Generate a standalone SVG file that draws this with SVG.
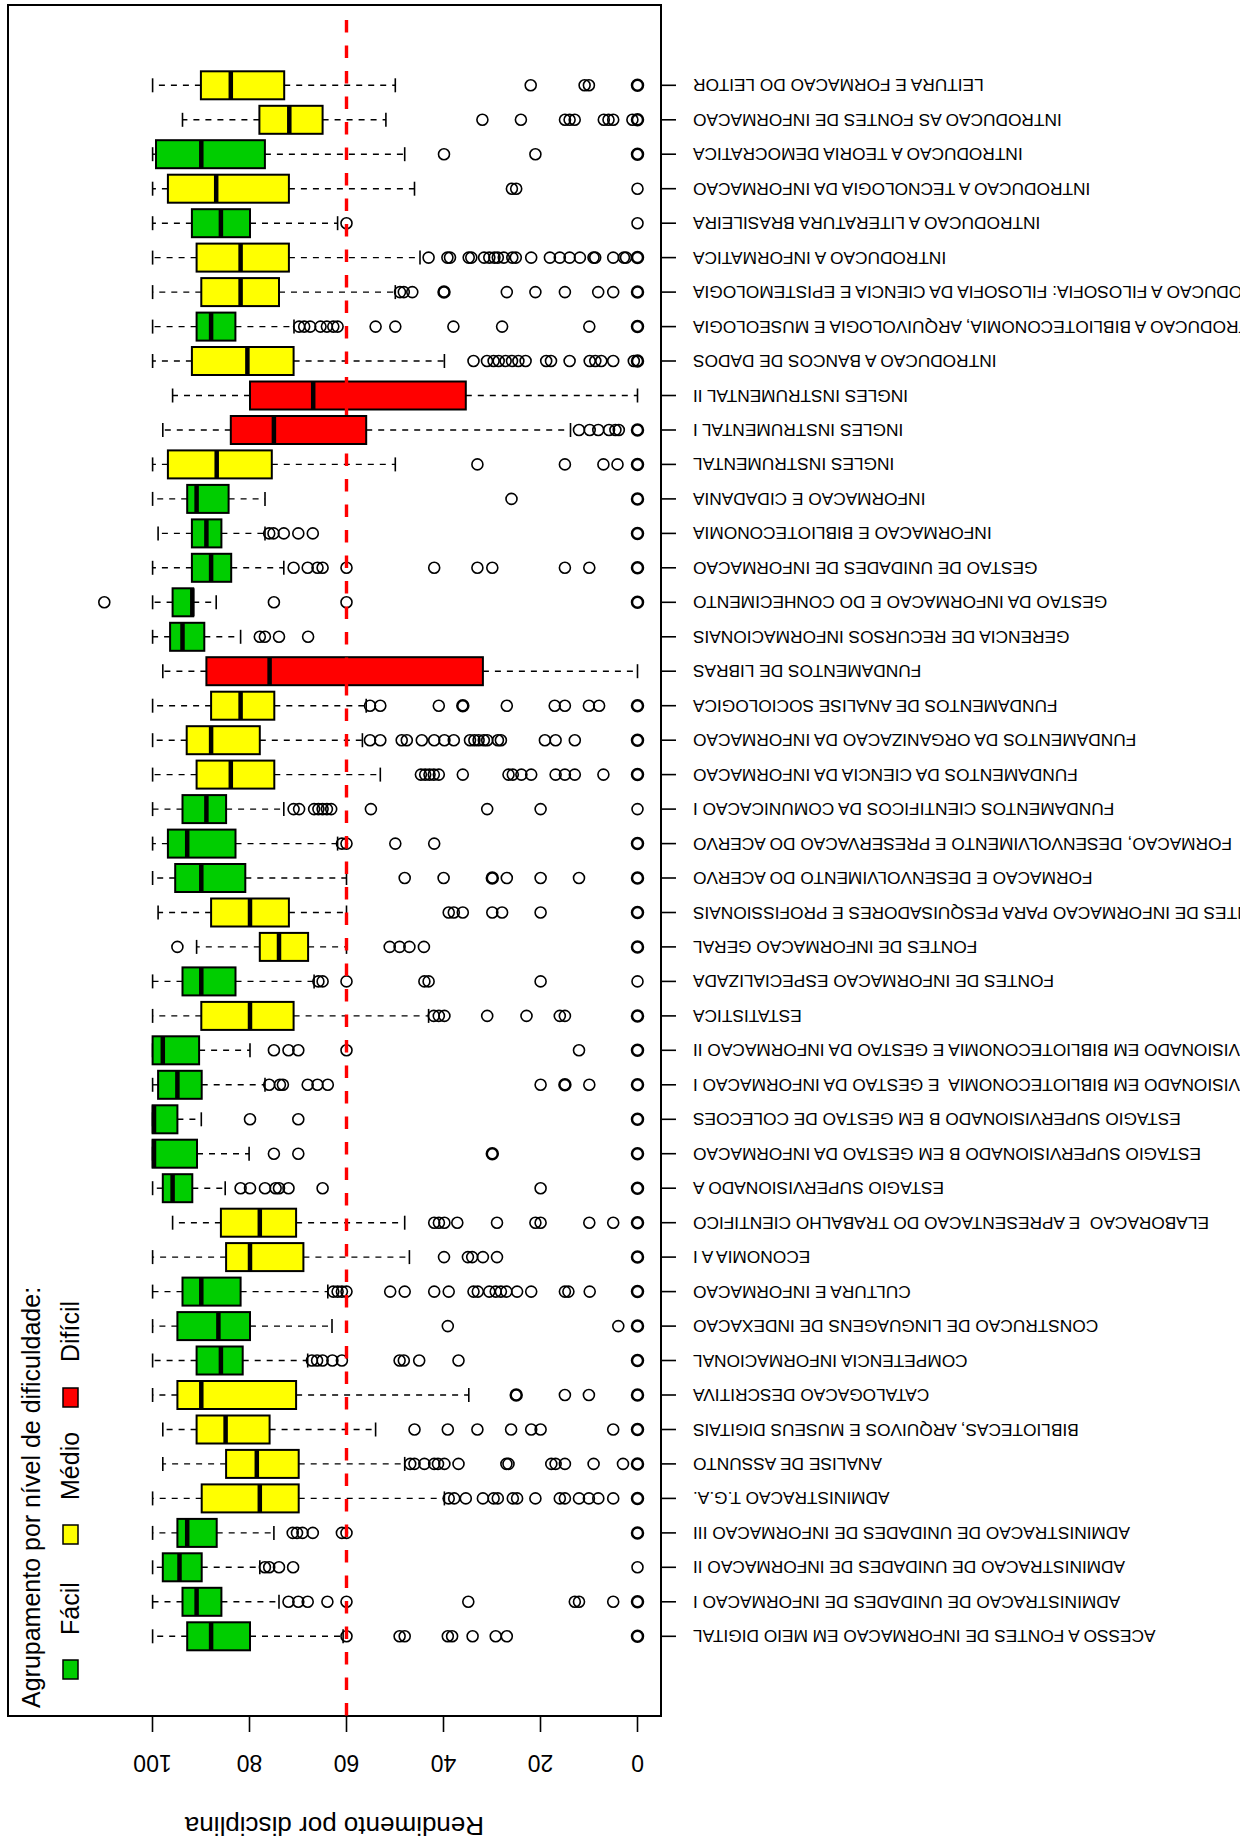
<svg xmlns="http://www.w3.org/2000/svg" width="1240" height="1842" viewBox="0 0 1240 1842">
<style>
text{font-family:"Liberation Sans",Arial,Helvetica,sans-serif;fill:#000}
.lb{font-size:17.3px;text-anchor:end}
.ax{font-size:23px;text-anchor:middle}
.tt{font-size:26px;text-anchor:middle}
.lg{font-size:25px}
.g{fill:#00cd00}.y{fill:#ffff00}.r{fill:#ff0000}
.row rect{stroke:#000;stroke-width:2}
.wh{stroke:#000;stroke-width:1.4;stroke-dasharray:6 6}
.st{stroke:#000;stroke-width:1.6}
.md{stroke:#000;stroke-width:4.5}
.tk{stroke:#000;stroke-width:1.6}
.row circle{fill:none;stroke:#000;stroke-width:1.6;r:5.5px}
.row circle.b{stroke-width:2.5}
.lk{stroke:#000;stroke-width:1.5}
</style>
<rect width="1240" height="1842" fill="#fff"/>
<rect id="frame" x="8" y="5" width="653" height="1711" fill="none" stroke="#000" stroke-width="2"/>

<g id="r1" class="row" transform="translate(0,85.3)"><line class="wh" x1="200.9" x2="152.6"/><line class="wh" x1="284.2" x2="395.3"/><line class="st" x1="152.6" x2="152.6" y1="-7" y2="7"/><line class="st" x1="395.3" x2="395.3" y1="-7" y2="7"/><rect class="y" x="200.9" y="-14" width="83.3" height="28"/><line class="md" x1="230.8" x2="230.8" y1="-14" y2="14"/><circle cx="530.7" r="5.5"/><circle cx="584.6" r="5.5"/><circle cx="588.9" r="5.5"/><circle class="b" cx="637.5" r="5.5"/><line class="tk" x1="661" x2="676"/><text class="lb" transform="translate(693,-6) rotate(180)">LEITURA E FORMACAO DO LEITOR</text></g>

<g id="r2" class="row" transform="translate(0,119.8)"><line class="wh" x1="259.4" x2="182.5"/><line class="wh" x1="322.6" x2="385.9"/><line class="st" x1="182.5" x2="182.5" y1="-7" y2="7"/><line class="st" x1="385.9" x2="385.9" y1="-7" y2="7"/><rect class="y" x="259.4" y="-14" width="63.2" height="28"/><line class="md" x1="289.3" x2="289.3" y1="-14" y2="14"/><circle cx="482.4" r="5.5"/><circle cx="520.9" r="5.5"/><circle cx="565" r="5.5"/><circle cx="569.6" r="5.5"/><circle cx="574.7" r="5.5"/><circle cx="603.8" r="5.5"/><circle cx="608.5" r="5.5"/><circle cx="613.2" r="5.5"/><circle cx="632.4" r="5.5"/><circle class="b" cx="637.5" r="5.5"/><line class="tk" x1="661" x2="676"/><text class="lb" transform="translate(693,-6) rotate(180)">INTRODUCAO AS FONTES DE INFORMACAO</text></g>

<g id="r3" class="row" transform="translate(0,154.2)"><line class="wh" x1="156" x2="152.6"/><line class="wh" x1="264.9" x2="404.7"/><line class="st" x1="152.6" x2="152.6" y1="-7" y2="7"/><line class="st" x1="404.7" x2="404.7" y1="-7" y2="7"/><rect class="g" x="156" y="-14" width="108.9" height="28"/><line class="md" x1="201.3" x2="201.3" y1="-14" y2="14"/><circle cx="444" r="5.5"/><circle cx="535.4" r="5.5"/><circle class="b" cx="637.5" r="5.5"/><line class="tk" x1="661" x2="676"/><text class="lb" transform="translate(693,-6) rotate(180)">INTRODUCAO A TEORIA DEMOCRATICA</text></g>

<g id="r4" class="row" transform="translate(0,188.7)"><line class="wh" x1="167.9" x2="152.6"/><line class="wh" x1="288.9" x2="414.5"/><line class="st" x1="152.6" x2="152.6" y1="-7" y2="7"/><line class="st" x1="414.5" x2="414.5" y1="-7" y2="7"/><rect class="y" x="167.9" y="-14" width="121" height="28"/><line class="md" x1="216.2" x2="216.2" y1="-14" y2="14"/><circle cx="511.9" r="5.5"/><circle cx="516.2" r="5.5"/><circle cx="637.5" r="5.5"/><line class="tk" x1="661" x2="676"/><text class="lb" transform="translate(693,-6) rotate(180)">INTRODUCAO A TECNOLOGIA DA INFORMACAO</text></g>

<g id="r5" class="row" transform="translate(0,223.2)"><line class="wh" x1="191.9" x2="152.6"/><line class="wh" x1="250" x2="337.6"/><line class="st" x1="152.6" x2="152.6" y1="-7" y2="7"/><line class="st" x1="337.6" x2="337.6" y1="-7" y2="7"/><rect class="g" x="191.9" y="-14" width="58.1" height="28"/><line class="md" x1="220.9" x2="220.9" y1="-14" y2="14"/><circle cx="346.5" r="5.5"/><circle cx="637.5" r="5.5"/><line class="tk" x1="661" x2="676"/><text class="lb" transform="translate(693,-6) rotate(180)">INTRODUCAO A LITERATURA BRASILEIRA</text></g>

<g id="r6" class="row" transform="translate(0,257.6)"><line class="wh" x1="196.6" x2="152.6"/><line class="wh" x1="288.9" x2="420"/><line class="st" x1="152.6" x2="152.6" y1="-7" y2="7"/><line class="st" x1="420" x2="420" y1="-7" y2="7"/><rect class="y" x="196.6" y="-14" width="92.3" height="28"/><line class="md" x1="240.6" x2="240.6" y1="-14" y2="14"/><circle cx="428.6" r="5.5"/><circle cx="447.4" r="5.5"/><circle cx="450" r="5.5"/><circle cx="468.7" r="5.5"/><circle cx="471.3" r="5.5"/><circle cx="484.1" r="5.5"/><circle cx="489.3" r="5.5"/><circle cx="494.4" r="5.5"/><circle cx="497.8" r="5.5"/><circle cx="503.8" r="5.5"/><circle cx="512.3" r="5.5"/><circle cx="515.8" r="5.5"/><circle cx="531.2" r="5.5"/><circle cx="549.9" r="5.5"/><circle cx="559.8" r="5.5"/><circle cx="569.6" r="5.5"/><circle cx="579.9" r="5.5"/><circle cx="593.5" r="5.5"/><circle cx="595.2" r="5.5"/><circle cx="613.2" r="5.5"/><circle cx="623.9" r="5.5"/><circle cx="626" r="5.5"/><circle class="b" cx="637.5" r="5.5"/><line class="tk" x1="661" x2="676"/><text class="lb" transform="translate(693,-6) rotate(180)">INTRODUCAO A INFORMATICA</text></g>

<g id="r7" class="row" transform="translate(0,292.1)"><line class="wh" x1="201.3" x2="152.6"/><line class="wh" x1="279" x2="395.3"/><line class="st" x1="152.6" x2="152.6" y1="-7" y2="7"/><line class="st" x1="395.3" x2="395.3" y1="-7" y2="7"/><rect class="y" x="201.3" y="-14" width="77.7" height="28"/><line class="md" x1="240.6" x2="240.6" y1="-14" y2="14"/><circle cx="400" r="5.5"/><circle cx="403.8" r="5.5"/><circle cx="412.3" r="5.5"/><circle class="b" cx="444" r="5.5"/><circle cx="506.8" r="5.5"/><circle cx="535.4" r="5.5"/><circle cx="564.9" r="5.5"/><circle cx="598.2" r="5.5"/><circle cx="613.2" r="5.5"/><circle class="b" cx="637.5" r="5.5"/><line class="tk" x1="661" x2="676"/><text class="lb" transform="translate(693,-6) rotate(180)">INTRODUCAO A FILOSOFIA: FILOSOFIA DA CIENCIA E EPISTEMOLOGIA</text></g>

<g id="r8" class="row" transform="translate(0,326.6)"><line class="wh" x1="196.6" x2="152.6"/><line class="wh" x1="235.4" x2="294"/><line class="st" x1="152.6" x2="152.6" y1="-7" y2="7"/><line class="st" x1="294" x2="294" y1="-7" y2="7"/><rect class="g" x="196.6" y="-14" width="38.8" height="28"/><line class="md" x1="211.1" x2="211.1" y1="-14" y2="14"/><circle cx="299.1" r="5.5"/><circle cx="304.2" r="5.5"/><circle cx="310.2" r="5.5"/><circle cx="320.5" r="5.5"/><circle cx="326.9" r="5.5"/><circle cx="333.3" r="5.5"/><circle cx="337.6" r="5.5"/><circle cx="375.6" r="5.5"/><circle cx="395.3" r="5.5"/><circle cx="453.4" r="5.5"/><circle cx="502.1" r="5.5"/><circle cx="589.3" r="5.5"/><circle class="b" cx="637.5" r="5.5"/><line class="tk" x1="661" x2="676"/><text class="lb" transform="translate(693,-6) rotate(180)">INTRODUCAO A BIBLIOTECONOMIA, ARQUIVOLOGIA E MUSEOLOGIA</text></g>

<g id="r9" class="row" transform="translate(0,361)"><line class="wh" x1="191.9" x2="152.6"/><line class="wh" x1="293.6" x2="444.4"/><line class="st" x1="152.6" x2="152.6" y1="-7" y2="7"/><line class="st" x1="444.4" x2="444.4" y1="-7" y2="7"/><rect class="y" x="191.9" y="-14" width="101.7" height="28"/><line class="md" x1="247.4" x2="247.4" y1="-14" y2="14"/><circle cx="473.5" r="5.5"/><circle cx="487" r="5.5"/><circle cx="493.6" r="5.5"/><circle cx="498.7" r="5.5"/><circle cx="505.6" r="5.5"/><circle cx="512" r="5.5"/><circle cx="518.4" r="5.5"/><circle cx="525.6" r="5.5"/><circle cx="546.2" r="5.5"/><circle cx="551" r="5.5"/><circle cx="569.6" r="5.5"/><circle cx="589.7" r="5.5"/><circle cx="595.3" r="5.5"/><circle cx="601.3" r="5.5"/><circle cx="613.2" r="5.5"/><circle cx="633.8" r="5.5"/><circle class="b" cx="637.5" r="5.5"/><line class="tk" x1="661" x2="676"/><text class="lb" transform="translate(693,-6) rotate(180)">INTRODUCAO A BANCOS DE DADOS</text></g>

<g id="r10" class="row" transform="translate(0,395.5)"><line class="wh" x1="250" x2="172.6"/><line class="wh" x1="465.8" x2="637.5"/><line class="st" x1="172.6" x2="172.6" y1="-7" y2="7"/><line class="st" x1="637.5" x2="637.5" y1="-7" y2="7"/><rect class="r" x="250" y="-14" width="215.8" height="28"/><line class="md" x1="313.2" x2="313.2" y1="-14" y2="14"/><line class="tk" x1="661" x2="676"/><text class="lb" transform="translate(693,-6) rotate(180)">INGLES INSTRUMENTAL II</text></g>

<g id="r11" class="row" transform="translate(0,430)"><line class="wh" x1="230.8" x2="162.8"/><line class="wh" x1="366.2" x2="570.5"/><line class="st" x1="162.8" x2="162.8" y1="-7" y2="7"/><line class="st" x1="570.5" x2="570.5" y1="-7" y2="7"/><rect class="r" x="230.8" y="-14" width="135.4" height="28"/><line class="md" x1="273.9" x2="273.9" y1="-14" y2="14"/><circle cx="579" r="5.5"/><circle cx="589.7" r="5.5"/><circle cx="598.3" r="5.5"/><circle cx="609" r="5.5"/><circle cx="615.4" r="5.5"/><circle cx="618.8" r="5.5"/><circle class="b" cx="637.5" r="5.5"/><line class="tk" x1="661" x2="676"/><text class="lb" transform="translate(693,-6) rotate(180)">INGLES INSTRUMENTAL I</text></g>

<g id="r12" class="row" transform="translate(0,464.4)"><line class="wh" x1="167.9" x2="152.6"/><line class="wh" x1="271.8" x2="395.3"/><line class="st" x1="152.6" x2="152.6" y1="-7" y2="7"/><line class="st" x1="395.3" x2="395.3" y1="-7" y2="7"/><rect class="y" x="167.9" y="-14" width="103.9" height="28"/><line class="md" x1="216.7" x2="216.7" y1="-14" y2="14"/><circle cx="477.4" r="5.5"/><circle cx="564.9" r="5.5"/><circle cx="603.4" r="5.5"/><circle cx="617.5" r="5.5"/><circle class="b" cx="637.5" r="5.5"/><line class="tk" x1="661" x2="676"/><text class="lb" transform="translate(693,-6) rotate(180)">INGLES INSTRUMENTAL</text></g>

<g id="r13" class="row" transform="translate(0,498.9)"><line class="wh" x1="187.2" x2="152.6"/><line class="wh" x1="228.6" x2="265"/><line class="st" x1="152.6" x2="152.6" y1="-7" y2="7"/><line class="st" x1="265" x2="265" y1="-7" y2="7"/><rect class="g" x="187.2" y="-14" width="41.4" height="28"/><line class="md" x1="196.6" x2="196.6" y1="-14" y2="14"/><circle cx="511.5" r="5.5"/><circle class="b" cx="637.5" r="5.5"/><line class="tk" x1="661" x2="676"/><text class="lb" transform="translate(693,-6) rotate(180)">INFORMACAO E CIDADANIA</text></g>

<g id="r14" class="row" transform="translate(0,533.4)"><line class="wh" x1="191.9" x2="158.1"/><line class="wh" x1="221.4" x2="265"/><line class="st" x1="158.1" x2="158.1" y1="-7" y2="7"/><line class="st" x1="265" x2="265" y1="-7" y2="7"/><rect class="g" x="191.9" y="-14" width="29.5" height="28"/><line class="md" x1="206.4" x2="206.4" y1="-14" y2="14"/><circle cx="269.2" r="5.5"/><circle cx="273.5" r="5.5"/><circle cx="283.8" r="5.5"/><circle cx="298.3" r="5.5"/><circle cx="312.8" r="5.5"/><circle class="b" cx="637.5" r="5.5"/><line class="tk" x1="661" x2="676"/><text class="lb" transform="translate(693,-6) rotate(180)">INFORMACAO E BIBLIOTECONOMIA</text></g>

<g id="r15" class="row" transform="translate(0,567.8)"><line class="wh" x1="191.9" x2="152.6"/><line class="wh" x1="231.2" x2="283.8"/><line class="st" x1="152.6" x2="152.6" y1="-7" y2="7"/><line class="st" x1="283.8" x2="283.8" y1="-7" y2="7"/><rect class="g" x="191.9" y="-14" width="39.3" height="28"/><line class="md" x1="211.1" x2="211.1" y1="-14" y2="14"/><circle cx="293.6" r="5.5"/><circle cx="307.7" r="5.5"/><circle cx="317.5" r="5.5"/><circle cx="322.6" r="5.5"/><circle cx="346.5" r="5.5"/><circle cx="434.2" r="5.5"/><circle cx="477.4" r="5.5"/><circle cx="492.3" r="5.5"/><circle cx="564.9" r="5.5"/><circle cx="589.3" r="5.5"/><circle class="b" cx="637.5" r="5.5"/><line class="tk" x1="661" x2="676"/><text class="lb" transform="translate(693,-6) rotate(180)">GESTAO DE UNIDADES DE INFORMACAO</text></g>

<g id="r16" class="row" transform="translate(0,602.3)"><line class="wh" x1="172.6" x2="152.6"/><line class="wh" x1="193.2" x2="216.2"/><line class="st" x1="152.6" x2="152.6" y1="-7" y2="7"/><line class="st" x1="216.2" x2="216.2" y1="-7" y2="7"/><rect class="g" x="172.6" y="-14" width="20.6" height="28"/><line class="md" x1="192.3" x2="192.3" y1="-14" y2="14"/><circle cx="104.3" r="5.5"/><circle cx="273.9" r="5.5"/><circle cx="346.5" r="5.5"/><circle class="b" cx="637.5" r="5.5"/><line class="tk" x1="661" x2="676"/><text class="lb" transform="translate(693,-6) rotate(180)">GESTAO DA INFORMACAO E DO CONHECIMENTO</text></g>

<g id="r17" class="row" transform="translate(0,636.8)"><line class="wh" x1="170.1" x2="152.6"/><line class="wh" x1="204.3" x2="240.6"/><line class="st" x1="152.6" x2="152.6" y1="-7" y2="7"/><line class="st" x1="240.6" x2="240.6" y1="-7" y2="7"/><rect class="g" x="170.1" y="-14" width="34.2" height="28"/><line class="md" x1="182.5" x2="182.5" y1="-14" y2="14"/><circle cx="259.8" r="5.5"/><circle cx="264.9" r="5.5"/><circle cx="279" r="5.5"/><circle cx="308.1" r="5.5"/><line class="tk" x1="661" x2="676"/><text class="lb" transform="translate(693,-6) rotate(180)">GERENCIA DE RECURSOS INFORMACIONAIS</text></g>

<g id="r18" class="row" transform="translate(0,671.2)"><line class="wh" x1="206.4" x2="162.8"/><line class="wh" x1="482.9" x2="637.5"/><line class="st" x1="162.8" x2="162.8" y1="-7" y2="7"/><line class="st" x1="637.5" x2="637.5" y1="-7" y2="7"/><rect class="r" x="206.4" y="-14" width="276.5" height="28"/><line class="md" x1="269.6" x2="269.6" y1="-14" y2="14"/><line class="tk" x1="661" x2="676"/><text class="lb" transform="translate(693,-6) rotate(180)">FUNDAMENTOS DE LIBRAS</text></g>

<g id="r19" class="row" transform="translate(0,705.7)"><line class="wh" x1="211.1" x2="152.6"/><line class="wh" x1="274.3" x2="366.2"/><line class="st" x1="152.6" x2="152.6" y1="-7" y2="7"/><line class="st" x1="366.2" x2="366.2" y1="-7" y2="7"/><rect class="y" x="211.1" y="-14" width="63.2" height="28"/><line class="md" x1="240.6" x2="240.6" y1="-14" y2="14"/><circle cx="370" r="5.5"/><circle cx="380.3" r="5.5"/><circle cx="438.8" r="5.5"/><circle class="b" cx="462.8" r="5.5"/><circle cx="506.8" r="5.5"/><circle cx="554.7" r="5.5"/><circle cx="564.9" r="5.5"/><circle cx="588.9" r="5.5"/><circle cx="599.1" r="5.5"/><circle class="b" cx="637.5" r="5.5"/><line class="tk" x1="661" x2="676"/><text class="lb" transform="translate(693,-6) rotate(180)">FUNDAMENTOS DE ANALISE SOCIOLOGICA</text></g>

<g id="r20" class="row" transform="translate(0,740.2)"><line class="wh" x1="186.7" x2="152.6"/><line class="wh" x1="259.8" x2="362.4"/><line class="st" x1="152.6" x2="152.6" y1="-7" y2="7"/><line class="st" x1="362.4" x2="362.4" y1="-7" y2="7"/><rect class="y" x="186.7" y="-14" width="73.1" height="28"/><line class="md" x1="211.1" x2="211.1" y1="-14" y2="14"/><circle cx="370" r="5.5"/><circle cx="380.3" r="5.5"/><circle cx="401.7" r="5.5"/><circle cx="406.8" r="5.5"/><circle cx="421.8" r="5.5"/><circle cx="434.2" r="5.5"/><circle cx="444.4" r="5.5"/><circle cx="453.8" r="5.5"/><circle cx="470" r="5.5"/><circle cx="474.4" r="5.5"/><circle cx="478.6" r="5.5"/><circle cx="483.8" r="5.5"/><circle cx="487.2" r="5.5"/><circle cx="497.9" r="5.5"/><circle cx="500.9" r="5.5"/><circle cx="544.9" r="5.5"/><circle cx="555.6" r="5.5"/><circle cx="574.8" r="5.5"/><circle class="b" cx="637.5" r="5.5"/><line class="tk" x1="661" x2="676"/><text class="lb" transform="translate(693,-6) rotate(180)">FUNDAMENTOS DA ORGANIZACAO DA INFORMACAO</text></g>

<g id="r21" class="row" transform="translate(0,774.6)"><line class="wh" x1="196.6" x2="152.6"/><line class="wh" x1="274.3" x2="380.3"/><line class="st" x1="152.6" x2="152.6" y1="-7" y2="7"/><line class="st" x1="380.3" x2="380.3" y1="-7" y2="7"/><rect class="y" x="196.6" y="-14" width="77.7" height="28"/><line class="md" x1="230.8" x2="230.8" y1="-14" y2="14"/><circle cx="420.9" r="5.5"/><circle cx="425.2" r="5.5"/><circle cx="429.5" r="5.5"/><circle cx="433.8" r="5.5"/><circle cx="438.8" r="5.5"/><circle cx="462.8" r="5.5"/><circle cx="508.5" r="5.5"/><circle cx="512.8" r="5.5"/><circle cx="521.4" r="5.5"/><circle cx="531.2" r="5.5"/><circle cx="555.6" r="5.5"/><circle cx="564.9" r="5.5"/><circle cx="574.8" r="5.5"/><circle cx="603.4" r="5.5"/><circle class="b" cx="637.5" r="5.5"/><line class="tk" x1="661" x2="676"/><text class="lb" transform="translate(693,-6) rotate(180)">FUNDAMENTOS DA CIENCIA DA INFORMACAO</text></g>

<g id="r22" class="row" transform="translate(0,809.1)"><line class="wh" x1="182.5" x2="152.6"/><line class="wh" x1="226.1" x2="283.8"/><line class="st" x1="152.6" x2="152.6" y1="-7" y2="7"/><line class="st" x1="283.8" x2="283.8" y1="-7" y2="7"/><rect class="g" x="182.5" y="-14" width="43.6" height="28"/><line class="md" x1="206.4" x2="206.4" y1="-14" y2="14"/><circle cx="293.6" r="5.5"/><circle cx="299.1" r="5.5"/><circle cx="314.1" r="5.5"/><circle cx="318.4" r="5.5"/><circle cx="322.6" r="5.5"/><circle cx="326.9" r="5.5"/><circle cx="331.2" r="5.5"/><circle cx="370.9" r="5.5"/><circle cx="487.2" r="5.5"/><circle cx="540.6" r="5.5"/><circle cx="637.5" r="5.5"/><line class="tk" x1="661" x2="676"/><text class="lb" transform="translate(693,-6) rotate(180)">FUNDAMENTOS CIENTIFICOS DA COMUNICACAO I</text></g>

<g id="r23" class="row" transform="translate(0,843.6)"><line class="wh" x1="167.9" x2="152.6"/><line class="wh" x1="235.5" x2="337.6"/><line class="st" x1="152.6" x2="152.6" y1="-7" y2="7"/><line class="st" x1="337.6" x2="337.6" y1="-7" y2="7"/><rect class="g" x="167.9" y="-14" width="67.6" height="28"/><line class="md" x1="187.2" x2="187.2" y1="-14" y2="14"/><circle cx="341.9" r="5.5"/><circle cx="346.5" r="5.5"/><circle cx="395.3" r="5.5"/><circle cx="434.2" r="5.5"/><circle class="b" cx="637.5" r="5.5"/><line class="tk" x1="661" x2="676"/><text class="lb" transform="translate(693,-6) rotate(180)">FORMACAO, DESENVOLVIMENTO E PRESERVACAO DO ACERVO</text></g>

<g id="r24" class="row" transform="translate(0,878)"><line class="wh" x1="175.2" x2="152.6"/><line class="wh" x1="245.3" x2="346.5"/><line class="st" x1="152.6" x2="152.6" y1="-7" y2="7"/><line class="st" x1="346.5" x2="346.5" y1="-7" y2="7"/><rect class="g" x="175.2" y="-14" width="70.1" height="28"/><line class="md" x1="201.3" x2="201.3" y1="-14" y2="14"/><circle cx="404.7" r="5.5"/><circle cx="443.6" r="5.5"/><circle class="b" cx="492.3" r="5.5"/><circle cx="506.8" r="5.5"/><circle cx="540.6" r="5.5"/><circle cx="579" r="5.5"/><circle class="b" cx="637.5" r="5.5"/><line class="tk" x1="661" x2="676"/><text class="lb" transform="translate(693,-6) rotate(180)">FORMACAO E DESENVOLVIMENTO DO ACERVO</text></g>

<g id="r25" class="row" transform="translate(0,912.5)"><line class="wh" x1="211.1" x2="158.1"/><line class="wh" x1="288.9" x2="346.5"/><line class="st" x1="158.1" x2="158.1" y1="-7" y2="7"/><line class="st" x1="346.5" x2="346.5" y1="-7" y2="7"/><rect class="y" x="211.1" y="-14" width="77.8" height="28"/><line class="md" x1="250" x2="250" y1="-14" y2="14"/><circle cx="448.7" r="5.5"/><circle cx="453.8" r="5.5"/><circle cx="462.8" r="5.5"/><circle cx="492.3" r="5.5"/><circle cx="502.1" r="5.5"/><circle cx="540.6" r="5.5"/><circle class="b" cx="637.5" r="5.5"/><line class="tk" x1="661" x2="676"/><text class="lb" transform="translate(693,-6) rotate(180)">FONTES DE INFORMACAO PARA PESQUISADORES E PROFISSIONAIS</text></g>

<g id="r26" class="row" transform="translate(0,946.9)"><line class="wh" x1="259.8" x2="196.6"/><line class="wh" x1="308.1" x2="346.5"/><line class="st" x1="196.6" x2="196.6" y1="-7" y2="7"/><line class="st" x1="346.5" x2="346.5" y1="-7" y2="7"/><rect class="y" x="259.8" y="-14" width="48.3" height="28"/><line class="md" x1="279" x2="279" y1="-14" y2="14"/><circle cx="177.4" r="5.5"/><circle cx="389.7" r="5.5"/><circle cx="399.6" r="5.5"/><circle cx="409.4" r="5.5"/><circle cx="423.9" r="5.5"/><circle class="b" cx="637.5" r="5.5"/><line class="tk" x1="661" x2="676"/><text class="lb" transform="translate(693,-6) rotate(180)">FONTES DE INFORMACAO GERAL</text></g>

<g id="r27" class="row" transform="translate(0,981.4)"><line class="wh" x1="182.5" x2="152.6"/><line class="wh" x1="235.5" x2="314.1"/><line class="st" x1="152.6" x2="152.6" y1="-7" y2="7"/><line class="st" x1="314.1" x2="314.1" y1="-7" y2="7"/><rect class="g" x="182.5" y="-14" width="53" height="28"/><line class="md" x1="201.3" x2="201.3" y1="-14" y2="14"/><circle cx="318.4" r="5.5"/><circle cx="322.6" r="5.5"/><circle cx="346.5" r="5.5"/><circle cx="424.4" r="5.5"/><circle cx="428.6" r="5.5"/><circle cx="540.6" r="5.5"/><circle cx="637.5" r="5.5"/><line class="tk" x1="661" x2="676"/><text class="lb" transform="translate(693,-6) rotate(180)">FONTES DE INFORMACAO ESPECIALIZADA</text></g>

<g id="r28" class="row" transform="translate(0,1015.9)"><line class="wh" x1="201.3" x2="152.6"/><line class="wh" x1="293.6" x2="428.6"/><line class="st" x1="152.6" x2="152.6" y1="-7" y2="7"/><line class="st" x1="428.6" x2="428.6" y1="-7" y2="7"/><rect class="y" x="201.3" y="-14" width="92.3" height="28"/><line class="md" x1="250" x2="250" y1="-14" y2="14"/><circle cx="433.8" r="5.5"/><circle cx="438.8" r="5.5"/><circle cx="444.4" r="5.5"/><circle cx="487.2" r="5.5"/><circle cx="526.5" r="5.5"/><circle cx="559.8" r="5.5"/><circle cx="564.9" r="5.5"/><circle class="b" cx="637.5" r="5.5"/><line class="tk" x1="661" x2="676"/><text class="lb" transform="translate(693,-6) rotate(180)">ESTATISTICA</text></g>

<g id="r29" class="row" transform="translate(0,1050.3)"><line class="wh" x1="199.1" x2="250"/><line class="st" x1="152.6" x2="152.6" y1="-7" y2="7"/><line class="st" x1="250" x2="250" y1="-7" y2="7"/><rect class="g" x="152.6" y="-14" width="46.5" height="28"/><line class="md" x1="162.8" x2="162.8" y1="-14" y2="14"/><circle cx="273.9" r="5.5"/><circle cx="288.5" r="5.5"/><circle cx="298.3" r="5.5"/><circle cx="346.5" r="5.5"/><circle cx="579" r="5.5"/><circle class="b" cx="637.5" r="5.5"/><line class="tk" x1="661" x2="676"/><text class="lb" transform="translate(693,-6) rotate(180)">ESTAGIO SUPERVISIONADO EM BIBLIOTECONOMIA E GESTAO DA INFORMACAO II</text></g>

<g id="r30" class="row" transform="translate(0,1084.8)"><line class="wh" x1="158.1" x2="152.6"/><line class="wh" x1="201.7" x2="265"/><line class="st" x1="152.6" x2="152.6" y1="-7" y2="7"/><line class="st" x1="265" x2="265" y1="-7" y2="7"/><rect class="g" x="158.1" y="-14" width="43.6" height="28"/><line class="md" x1="177.4" x2="177.4" y1="-14" y2="14"/><circle cx="269.2" r="5.5"/><circle cx="279.9" r="5.5"/><circle cx="282.9" r="5.5"/><circle cx="307.7" r="5.5"/><circle cx="317.5" r="5.5"/><circle cx="327.8" r="5.5"/><circle cx="540.6" r="5.5"/><circle class="b" cx="564.9" r="5.5"/><circle cx="589.3" r="5.5"/><circle class="b" cx="637.5" r="5.5"/><line class="tk" x1="661" x2="676"/><text class="lb" xml:space="preserve" transform="translate(693,-6) rotate(180)">ESTAGIO SUPERVISIONADO EM BIBLIOTECONOMIA  E GESTAO DA INFORMACAO I</text></g>

<g id="r31" class="row" transform="translate(0,1119.3)"><line class="wh" x1="177.4" x2="201.3"/><line class="st" x1="152.6" x2="152.6" y1="-7" y2="7"/><line class="st" x1="201.3" x2="201.3" y1="-7" y2="7"/><rect class="g" x="152.6" y="-14" width="24.8" height="28"/><line class="md" x1="154" x2="154" y1="-14" y2="14"/><circle cx="250" r="5.5"/><circle cx="298.3" r="5.5"/><circle class="b" cx="637.5" r="5.5"/><line class="tk" x1="661" x2="676"/><text class="lb" transform="translate(693,-6) rotate(180)">ESTAGIO SUPERVISIONADO B EM GESTAO DE COLECOES</text></g>

<g id="r32" class="row" transform="translate(0,1153.7)"><line class="wh" x1="197" x2="249.1"/><line class="st" x1="152.6" x2="152.6" y1="-7" y2="7"/><line class="st" x1="249.1" x2="249.1" y1="-7" y2="7"/><rect class="g" x="152.6" y="-14" width="44.4" height="28"/><line class="md" x1="154" x2="154" y1="-14" y2="14"/><circle cx="273.9" r="5.5"/><circle cx="298.3" r="5.5"/><circle class="b" cx="492.3" r="5.5"/><circle class="b" cx="637.5" r="5.5"/><line class="tk" x1="661" x2="676"/><text class="lb" transform="translate(693,-6) rotate(180)">ESTAGIO SUPERVISIONADO B EM GESTAO DA INFORMACAO</text></g>

<g id="r33" class="row" transform="translate(0,1188.2)"><line class="wh" x1="162.8" x2="152.6"/><line class="wh" x1="192.3" x2="225.2"/><line class="st" x1="152.6" x2="152.6" y1="-7" y2="7"/><line class="st" x1="225.2" x2="225.2" y1="-7" y2="7"/><rect class="g" x="162.8" y="-14" width="29.5" height="28"/><line class="md" x1="172.6" x2="172.6" y1="-14" y2="14"/><circle cx="240.6" r="5.5"/><circle cx="250" r="5.5"/><circle cx="265" r="5.5"/><circle cx="275.6" r="5.5"/><circle cx="279" r="5.5"/><circle cx="288.5" r="5.5"/><circle cx="322.6" r="5.5"/><circle cx="540.6" r="5.5"/><circle class="b" cx="637.5" r="5.5"/><line class="tk" x1="661" x2="676"/><text class="lb" transform="translate(693,-6) rotate(180)">ESTAGIO SUPERVISIONADO A</text></g>

<g id="r34" class="row" transform="translate(0,1222.7)"><line class="wh" x1="220.9" x2="172.6"/><line class="wh" x1="296.1" x2="404.7"/><line class="st" x1="172.6" x2="172.6" y1="-7" y2="7"/><line class="st" x1="404.7" x2="404.7" y1="-7" y2="7"/><rect class="y" x="220.9" y="-14" width="75.2" height="28"/><line class="md" x1="259.8" x2="259.8" y1="-14" y2="14"/><circle cx="434.2" r="5.5"/><circle cx="438.9" r="5.5"/><circle cx="444.4" r="5.5"/><circle cx="457.3" r="5.5"/><circle cx="497" r="5.5"/><circle cx="535.4" r="5.5"/><circle cx="540.6" r="5.5"/><circle cx="589.3" r="5.5"/><circle cx="613.2" r="5.5"/><circle class="b" cx="637.5" r="5.5"/><line class="tk" x1="661" x2="676"/><text class="lb" xml:space="preserve" transform="translate(693,-6) rotate(180)">ELABORACAO  E APRESENTACAO DO TRABALHO CIENTIFICO</text></g>

<g id="r35" class="row" transform="translate(0,1257.1)"><line class="wh" x1="226.1" x2="152.6"/><line class="wh" x1="303.4" x2="409.4"/><line class="st" x1="152.6" x2="152.6" y1="-7" y2="7"/><line class="st" x1="409.4" x2="409.4" y1="-7" y2="7"/><rect class="y" x="226.1" y="-14" width="77.3" height="28"/><line class="md" x1="250" x2="250" y1="-14" y2="14"/><circle cx="444" r="5.5"/><circle cx="467.9" r="5.5"/><circle cx="472.2" r="5.5"/><circle cx="482.9" r="5.5"/><circle cx="497" r="5.5"/><circle class="b" cx="637.5" r="5.5"/><line class="tk" x1="661" x2="676"/><text class="lb" transform="translate(693,-6) rotate(180)">ECONOMIA A I</text></g>

<g id="r36" class="row" transform="translate(0,1291.6)"><line class="wh" x1="182.5" x2="152.6"/><line class="wh" x1="240.6" x2="327.8"/><line class="st" x1="152.6" x2="152.6" y1="-7" y2="7"/><line class="st" x1="327.8" x2="327.8" y1="-7" y2="7"/><rect class="g" x="182.5" y="-14" width="58.1" height="28"/><line class="md" x1="201.3" x2="201.3" y1="-14" y2="14"/><circle cx="333.3" r="5.5"/><circle cx="337.6" r="5.5"/><circle cx="341.9" r="5.5"/><circle cx="346.5" r="5.5"/><circle cx="390.2" r="5.5"/><circle cx="404.7" r="5.5"/><circle cx="434.2" r="5.5"/><circle cx="448.7" r="5.5"/><circle cx="473.5" r="5.5"/><circle cx="477.8" r="5.5"/><circle cx="489.3" r="5.5"/><circle cx="495.7" r="5.5"/><circle cx="500.9" r="5.5"/><circle cx="506.4" r="5.5"/><circle cx="517.1" r="5.5"/><circle cx="531.2" r="5.5"/><circle cx="564.9" r="5.5"/><circle cx="568.4" r="5.5"/><circle cx="589.7" r="5.5"/><circle class="b" cx="637.5" r="5.5"/><line class="tk" x1="661" x2="676"/><text class="lb" transform="translate(693,-6) rotate(180)">CULTURA E INFORMACAO</text></g>

<g id="r37" class="row" transform="translate(0,1326.1)"><line class="wh" x1="177.4" x2="152.6"/><line class="wh" x1="250" x2="332"/><line class="st" x1="152.6" x2="152.6" y1="-7" y2="7"/><line class="st" x1="332" x2="332" y1="-7" y2="7"/><rect class="g" x="177.4" y="-14" width="72.6" height="28"/><line class="md" x1="218.4" x2="218.4" y1="-14" y2="14"/><circle cx="447.8" r="5.5"/><circle cx="618.3" r="5.5"/><circle class="b" cx="637.5" r="5.5"/><line class="tk" x1="661" x2="676"/><text class="lb" transform="translate(693,-6) rotate(180)">CONSTRUCAO DE LINGUAGENS DE INDEXACAO</text></g>

<g id="r38" class="row" transform="translate(0,1360.5)"><line class="wh" x1="196.6" x2="152.6"/><line class="wh" x1="242.7" x2="307.7"/><line class="st" x1="152.6" x2="152.6" y1="-7" y2="7"/><line class="st" x1="307.7" x2="307.7" y1="-7" y2="7"/><rect class="g" x="196.6" y="-14" width="46.1" height="28"/><line class="md" x1="220.9" x2="220.9" y1="-14" y2="14"/><circle cx="311.9" r="5.5"/><circle cx="317.1" r="5.5"/><circle cx="322.6" r="5.5"/><circle cx="332.4" r="5.5"/><circle cx="341.9" r="5.5"/><circle cx="399.6" r="5.5"/><circle cx="403.8" r="5.5"/><circle cx="419.2" r="5.5"/><circle cx="458.5" r="5.5"/><circle class="b" cx="637.5" r="5.5"/><line class="tk" x1="661" x2="676"/><text class="lb" transform="translate(693,-6) rotate(180)">COMPETENCIA INFORMACIONAL</text></g>

<g id="r39" class="row" transform="translate(0,1395)"><line class="wh" x1="177.4" x2="152.6"/><line class="wh" x1="296.1" x2="468.8"/><line class="st" x1="152.6" x2="152.6" y1="-7" y2="7"/><line class="st" x1="468.8" x2="468.8" y1="-7" y2="7"/><rect class="y" x="177.4" y="-14" width="118.7" height="28"/><line class="md" x1="201.3" x2="201.3" y1="-14" y2="14"/><circle class="b" cx="516.2" r="5.5"/><circle cx="564.9" r="5.5"/><circle cx="588.9" r="5.5"/><circle class="b" cx="637.5" r="5.5"/><line class="tk" x1="661" x2="676"/><text class="lb" transform="translate(693,-6) rotate(180)">CATALOGACAO DESCRITIVA</text></g>

<g id="r40" class="row" transform="translate(0,1429.5)"><line class="wh" x1="196.6" x2="162.8"/><line class="wh" x1="269.6" x2="375.6"/><line class="st" x1="162.8" x2="162.8" y1="-7" y2="7"/><line class="st" x1="375.6" x2="375.6" y1="-7" y2="7"/><rect class="y" x="196.6" y="-14" width="73" height="28"/><line class="md" x1="225.6" x2="225.6" y1="-14" y2="14"/><circle cx="414.5" r="5.5"/><circle cx="447.8" r="5.5"/><circle cx="477.4" r="5.5"/><circle cx="511.1" r="5.5"/><circle cx="531.2" r="5.5"/><circle cx="540.6" r="5.5"/><circle cx="613.2" r="5.5"/><circle class="b" cx="637.5" r="5.5"/><line class="tk" x1="661" x2="676"/><text class="lb" transform="translate(693,-6) rotate(180)">BIBLIOTECAS, ARQUIVOS E MUSEUS DIGITAIS</text></g>

<g id="r41" class="row" transform="translate(0,1463.9)"><line class="wh" x1="226.1" x2="162.8"/><line class="wh" x1="298.7" x2="404.7"/><line class="st" x1="162.8" x2="162.8" y1="-7" y2="7"/><line class="st" x1="404.7" x2="404.7" y1="-7" y2="7"/><rect class="y" x="226.1" y="-14" width="72.6" height="28"/><line class="md" x1="256.8" x2="256.8" y1="-14" y2="14"/><circle cx="410.2" r="5.5"/><circle cx="414.5" r="5.5"/><circle cx="424.4" r="5.5"/><circle cx="434.2" r="5.5"/><circle cx="438" r="5.5"/><circle cx="444.4" r="5.5"/><circle cx="458.5" r="5.5"/><circle cx="506.4" r="5.5"/><circle cx="508.5" r="5.5"/><circle cx="551.3" r="5.5"/><circle cx="555.6" r="5.5"/><circle cx="564.9" r="5.5"/><circle cx="593.6" r="5.5"/><circle cx="623" r="5.5"/><circle class="b" cx="637.5" r="5.5"/><line class="tk" x1="661" x2="676"/><text class="lb" transform="translate(693,-6) rotate(180)">ANALISE DE ASSUNTO</text></g>

<g id="r42" class="row" transform="translate(0,1498.4)"><line class="wh" x1="201.7" x2="152.6"/><line class="wh" x1="298.7" x2="444.4"/><line class="st" x1="152.6" x2="152.6" y1="-7" y2="7"/><line class="st" x1="444.4" x2="444.4" y1="-7" y2="7"/><rect class="y" x="201.7" y="-14" width="97" height="28"/><line class="md" x1="259.8" x2="259.8" y1="-14" y2="14"/><circle cx="448.7" r="5.5"/><circle cx="454.2" r="5.5"/><circle cx="465.8" r="5.5"/><circle cx="482.9" r="5.5"/><circle cx="493.6" r="5.5"/><circle cx="497.8" r="5.5"/><circle cx="512.8" r="5.5"/><circle cx="517.1" r="5.5"/><circle cx="535.4" r="5.5"/><circle cx="559.8" r="5.5"/><circle cx="564.9" r="5.5"/><circle cx="579" r="5.5"/><circle cx="588.9" r="5.5"/><circle cx="598.3" r="5.5"/><circle cx="613.2" r="5.5"/><circle class="b" cx="637.5" r="5.5"/><line class="tk" x1="661" x2="676"/><text class="lb" transform="translate(693,-6) rotate(180)">ADMINISTRACAO T.G.A.</text></g>

<g id="r43" class="row" transform="translate(0,1532.9)"><line class="wh" x1="177.4" x2="152.6"/><line class="wh" x1="216.7" x2="273.9"/><line class="st" x1="152.6" x2="152.6" y1="-7" y2="7"/><line class="st" x1="273.9" x2="273.9" y1="-7" y2="7"/><rect class="g" x="177.4" y="-14" width="39.3" height="28"/><line class="md" x1="187.2" x2="187.2" y1="-14" y2="14"/><circle cx="292.7" r="5.5"/><circle cx="297" r="5.5"/><circle cx="302.5" r="5.5"/><circle cx="312.8" r="5.5"/><circle cx="341.9" r="5.5"/><circle cx="346.5" r="5.5"/><circle class="b" cx="637.5" r="5.5"/><line class="tk" x1="661" x2="676"/><text class="lb" transform="translate(693,-6) rotate(180)">ADMINISTRACAO DE UNIDADES DE INFORMACAO III</text></g>

<g id="r44" class="row" transform="translate(0,1567.3)"><line class="wh" x1="162.8" x2="152.6"/><line class="wh" x1="201.7" x2="259.8"/><line class="st" x1="152.6" x2="152.6" y1="-7" y2="7"/><line class="st" x1="259.8" x2="259.8" y1="-7" y2="7"/><rect class="g" x="162.8" y="-14" width="38.9" height="28"/><line class="md" x1="179.5" x2="179.5" y1="-14" y2="14"/><circle cx="264.9" r="5.5"/><circle cx="269.2" r="5.5"/><circle cx="279" r="5.5"/><circle cx="293.1" r="5.5"/><circle cx="637.5" r="5.5"/><line class="tk" x1="661" x2="676"/><text class="lb" transform="translate(693,-6) rotate(180)">ADMINISTRACAO DE UNIDADES DE INFORMACAO II</text></g>

<g id="r45" class="row" transform="translate(0,1601.8)"><line class="wh" x1="182.5" x2="152.6"/><line class="wh" x1="221.4" x2="279"/><line class="st" x1="152.6" x2="152.6" y1="-7" y2="7"/><line class="st" x1="279" x2="279" y1="-7" y2="7"/><rect class="g" x="182.5" y="-14" width="38.9" height="28"/><line class="md" x1="196.6" x2="196.6" y1="-14" y2="14"/><circle cx="288.5" r="5.5"/><circle cx="298.3" r="5.5"/><circle cx="307.7" r="5.5"/><circle cx="327.4" r="5.5"/><circle cx="346.5" r="5.5"/><circle cx="468.3" r="5.5"/><circle cx="574.8" r="5.5"/><circle cx="579" r="5.5"/><circle cx="613.2" r="5.5"/><circle class="b" cx="637.5" r="5.5"/><line class="tk" x1="661" x2="676"/><text class="lb" transform="translate(693,-6) rotate(180)">ADMINISTRACAO DE UNIDADES DE INFORMACAO I</text></g>

<g id="r46" class="row" transform="translate(0,1636.3)"><line class="wh" x1="187.2" x2="152.6"/><line class="wh" x1="250" x2="343.1"/><line class="st" x1="152.6" x2="152.6" y1="-7" y2="7"/><line class="st" x1="343.1" x2="343.1" y1="-7" y2="7"/><rect class="g" x="187.2" y="-14" width="62.8" height="28"/><line class="md" x1="211.1" x2="211.1" y1="-14" y2="14"/><circle cx="346.5" r="5.5"/><circle cx="399.6" r="5.5"/><circle cx="404.7" r="5.5"/><circle cx="447.8" r="5.5"/><circle cx="452.1" r="5.5"/><circle cx="472.6" r="5.5"/><circle cx="495.7" r="5.5"/><circle cx="506.8" r="5.5"/><circle class="b" cx="637.5" r="5.5"/><line class="tk" x1="661" x2="676"/><text class="lb" transform="translate(693,-6) rotate(180)">ACESSO A FONTES DE INFORMACAO EM MEIO DIGITAL</text></g>

<g id="connectors">
<line id="ref60" x1="346.5" y1="20" x2="346.5" y2="1716" stroke="#ff0000" stroke-width="3.4" stroke-dasharray="12.5 13"/>
</g>

<g id="xaxis">
<g stroke="#000" stroke-width="1.6">
<line x1="152.5" y1="1716" x2="152.5" y2="1732"/><line x1="249.5" y1="1716" x2="249.5" y2="1732"/><line x1="346.5" y1="1716" x2="346.5" y2="1732"/><line x1="443.5" y1="1716" x2="443.5" y2="1732"/><line x1="540.5" y1="1716" x2="540.5" y2="1732"/><line x1="637.5" y1="1716" x2="637.5" y2="1732"/>
</g>
<text class="ax" transform="translate(152.5,1755) rotate(180)">100</text>
<text class="ax" transform="translate(249.5,1755) rotate(180)">80</text>
<text class="ax" transform="translate(346.5,1755) rotate(180)">60</text>
<text class="ax" transform="translate(443.5,1755) rotate(180)">40</text>
<text class="ax" transform="translate(540.5,1755) rotate(180)">20</text>
<text class="ax" transform="translate(637.5,1755) rotate(180)">0</text>
<text class="tt" transform="translate(334.5,1817) rotate(180)">Rendimento por disciplina</text>
</g>

<g id="legend">
<text class="lg" transform="translate(39.5,1708) rotate(-90)">Agrupamento por nível de dificuldade:</text>
<rect class="g lk" x="63" y="1660" width="15" height="19"/>
<text class="lg" transform="translate(79,1635) rotate(-90)">Fácil</text>
<rect class="y lk" x="63" y="1525" width="15" height="19"/>
<text class="lg" transform="translate(79,1500) rotate(-90)">Médio</text>
<rect class="r lk" x="63" y="1388" width="15" height="19"/>
<text class="lg" transform="translate(79,1362) rotate(-90)">Difícil</text>
</g>
</svg>
